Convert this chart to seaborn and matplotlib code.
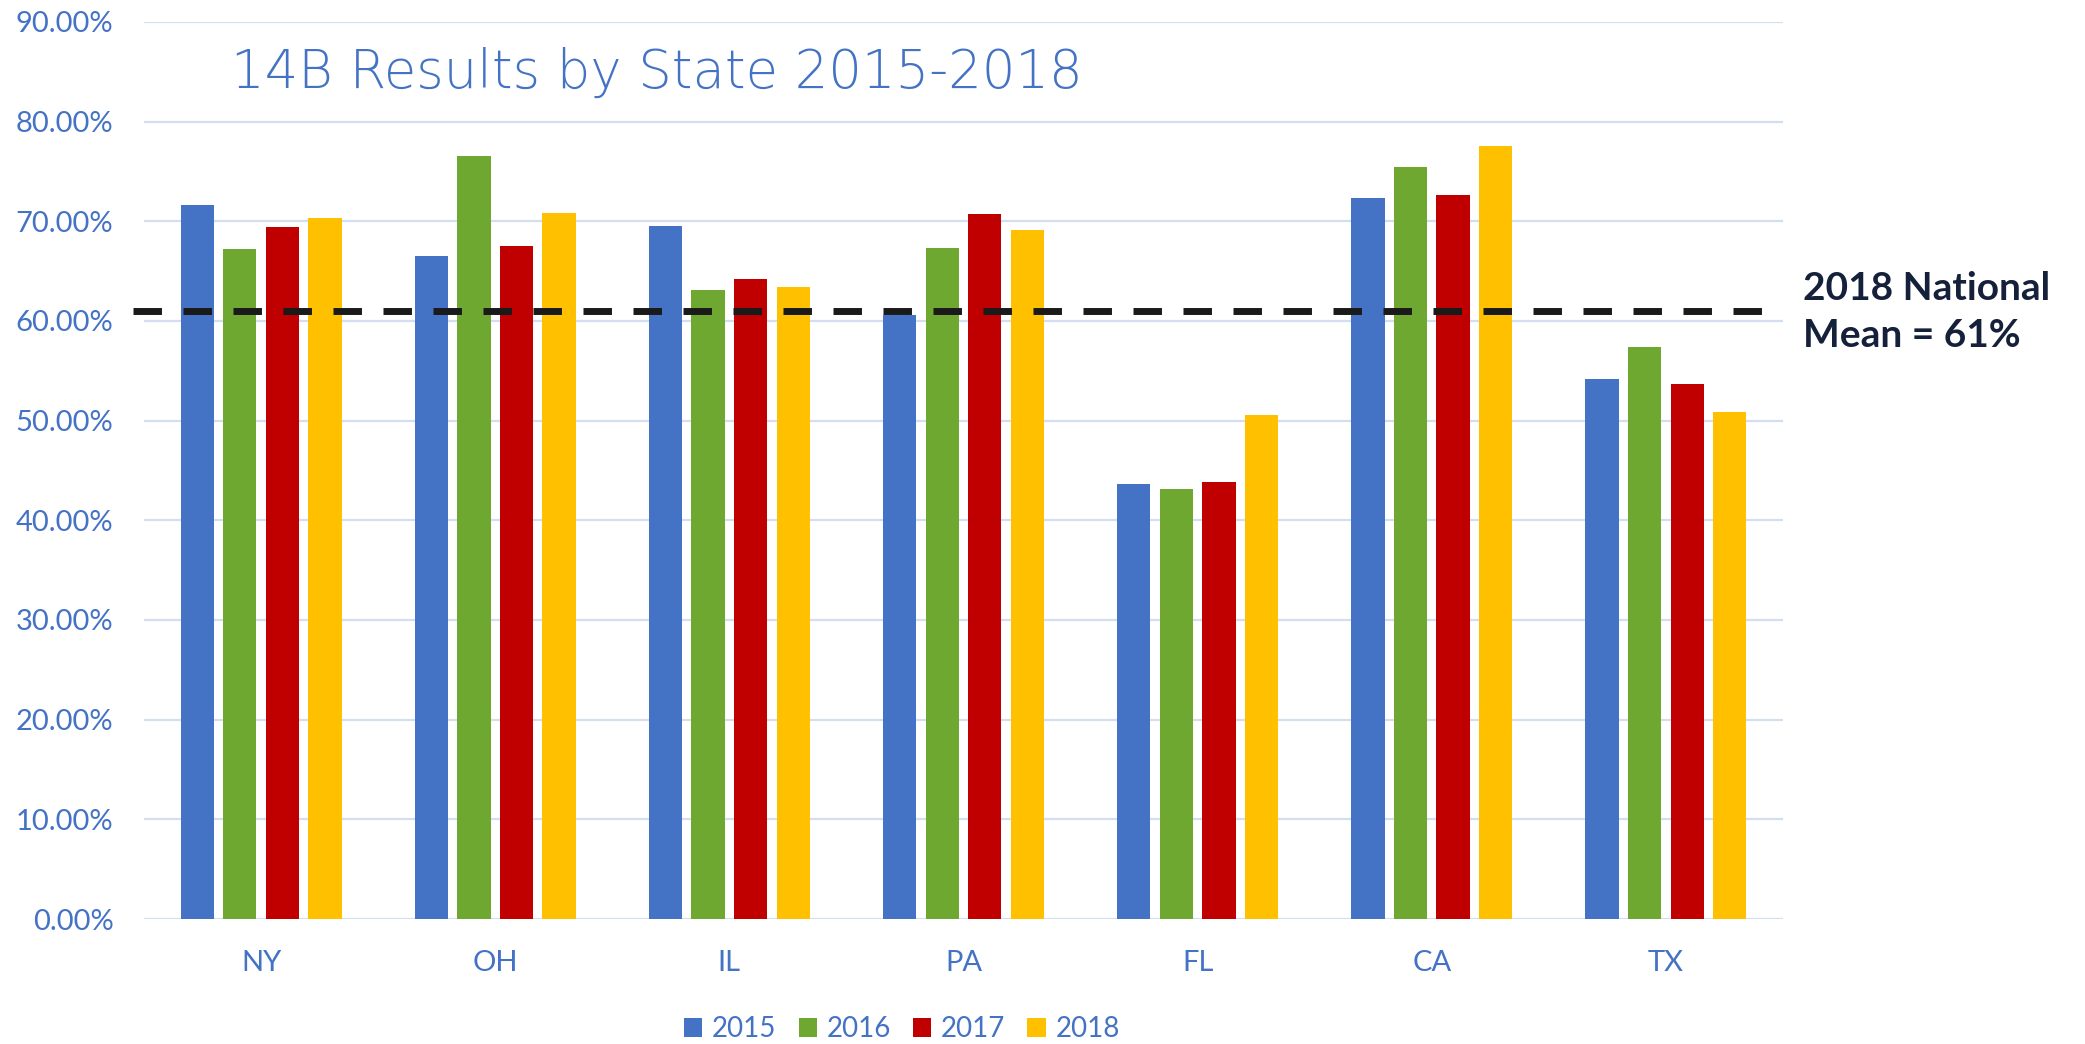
import numpy as np
import pandas as pd
import matplotlib
matplotlib.use("Agg")
import matplotlib.pyplot as plt
from matplotlib.ticker import PercentFormatter
import seaborn as sns

# data (percent)
states = ["NY", "OH", "IL", "PA", "FL", "CA", "TX"]
years = ["2015", "2016", "2017", "2018"]
vals_2015 = [71.66, 66.55, 69.56, 60.56, 43.64, 72.33, 54.17]
vals_2016 = [67.18, 76.58, 63.14, 67.28, 43.14, 75.41, 57.35]
vals_2017 = [69.39, 67.48, 64.17, 70.76, 43.81, 72.63, 53.64]
vals_2018 = [70.29, 70.79, 63.40, 69.09, 50.53, 77.58, 50.83]
national_mean = 61.0

colors = ["#4472C4", "#6FA830", "#C00000", "#FFC000"]
text_blue = "#4472C4"
grid_color = "#D3DEF1"

# long-form table for seaborn
rows = []
for yr, vals in zip(years, [vals_2015, vals_2016, vals_2017, vals_2018]):
    for st, v in zip(states, vals):
        rows.append({"state": st, "year": yr, "value": v / 100.0})
df = pd.DataFrame(rows)

sns.set_style("white")
plt.rcParams["font.family"] = ["Lato", "DejaVu Sans"]

fig = plt.figure(figsize=(20.85, 10.44), dpi=100)
ax = fig.add_axes([144 / 2085, 1 - 919 / 1044, (1783 - 144) / 2085, (919 - 22) / 1044])

sns.barplot(data=df, x="state", y="value", hue="year", order=states, hue_order=years,
            palette=colors, saturation=1, width=0.727, gap=0.22, linewidth=0,
            errorbar=None, ax=ax)

ax.set_ylim(0, 0.9)
ax.set_xlim(-0.5, len(states) - 0.5)
ax.set_yticks(np.arange(0, 0.91, 0.1))
ax.yaxis.set_major_formatter(PercentFormatter(xmax=1, decimals=2))
ax.grid(axis="y", color=grid_color, linewidth=1.6)
ax.set_axisbelow(True)
for s in ax.spines.values():
    s.set_visible(False)
ax.set_xlabel("")
ax.set_ylabel("")
ax.tick_params(axis="both", length=0, colors=text_blue, labelsize=21)
ax.tick_params(axis="y", pad=22)
ax.tick_params(axis="x", pad=22)

# national mean dashed line
ax.axhline(national_mean / 100, xmin=-0.007, xmax=1.0, color="#1A1A1A", linewidth=5.0,
           linestyle=(0, (4.1, 3.1)), clip_on=False, zorder=5)

fig.text(1803 / 2085, 1 - 271 / 1044, "2018 National\nMean = 61%", fontsize=28,
         fontweight="bold", color="#15213A", ha="left", va="top", linespacing=1.4)

fig.text(231 / 2085, 1 - 88 / 1044, "14B Results by State 2015-2018", fontsize=38,
         color=text_blue, ha="left", va="baseline", family=["DejaVu Sans"],
         fontweight="light")

handles, labels = ax.get_legend_handles_labels()
ax.get_legend().remove()
fig.legend(handles, labels, loc="center", bbox_to_anchor=(902 / 2085, 1 - 1029 / 1044),
           ncol=4, frameon=False, fontsize=20, labelcolor=text_blue,
           handlelength=0.65, handleheight=0.65, handletextpad=0.35, columnspacing=0.8)

fig.savefig("out.png", dpi=100, facecolor="white")
